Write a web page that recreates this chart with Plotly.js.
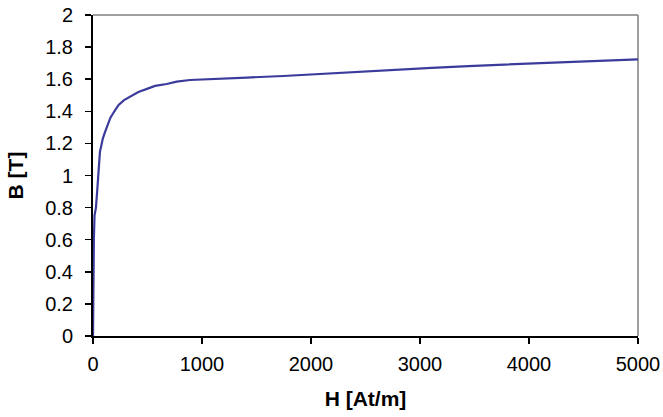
<!DOCTYPE html>
<html>
<head>
<meta charset="utf-8">
<script src="https://cdn.plot.ly/plotly-3.0.1.min.js"></script>
<style>html,body{margin:0;padding:0;background:#fff;}#chart{width:663px;height:417px;}</style>
</head>
<body>
<div id="chart"></div>
<script>
// Magnetization (B-H) curve values
var H = [0, 1, 3, 8, 14, 27, 38, 46, 55, 64, 71, 90, 110, 125, 160, 196, 235, 285, 340, 416, 508, 569, 676, 768, 890, 1104, 1410, 1746, 2052, 2419, 2755, 3107, 3443, 3841, 4193, 4590, 5000];
var B = [0, 0.2, 0.4, 0.6, 0.75, 0.8, 0.9, 1.0, 1.1, 1.15, 1.17, 1.23, 1.27, 1.30, 1.36, 1.40, 1.44, 1.47, 1.49, 1.52, 1.543, 1.558, 1.57, 1.585, 1.595, 1.60, 1.61, 1.62, 1.632, 1.647, 1.657, 1.67, 1.682, 1.693, 1.705, 1.715, 1.724];
var xTitle = "H [At/m]";
var yTitle = "B [T]";

var trace = {
  x: H, y: B, type: 'scatter', mode: 'lines',
  line: {color: '#3b3b9c', width: 2.2},
  hoverinfo: 'none'
};

var tickFont = {family: 'Liberation Sans, Arial, sans-serif', size: 20, color: '#000'};
var titleFont = {family: 'Liberation Sans, Arial, sans-serif', size: 21, color: '#000', weight: 'bold'};

var layout = {
  width: 663, height: 417,
  margin: {l: 93, r: 25, t: 15, b: 81, pad: 0},
  paper_bgcolor: '#fff', plot_bgcolor: '#fff',
  showlegend: false,
  xaxis: {
    range: [0, 5000], dtick: 1000, tick0: 0,
    showgrid: false, zeroline: false,
    showline: true, linecolor: '#000', linewidth: 2,
    ticks: 'outside', ticklen: 6, tickwidth: 1.5, tickcolor: '#000',
    tickfont: tickFont, ticklabelstandoff: 3,
    title: {text: '<b>' + xTitle + '</b>', font: titleFont, standoff: 17},
    automargin: false, fixedrange: true
  },
  yaxis: {
    range: [0, 2], dtick: 0.2, tick0: 0,
    showgrid: false, zeroline: false,
    showline: true, linecolor: '#000', linewidth: 2,
    ticks: 'outside', ticklen: 6, tickwidth: 1.5, tickcolor: '#000',
    tickfont: tickFont, ticklabelstandoff: 8,
    title: {text: '<b>' + yTitle + '</b>', font: titleFont, standoff: 16},
    automargin: false, fixedrange: true
  },
  shapes: [
    {type: 'line', xref: 'paper', yref: 'paper', x0: 0, x1: 1, y0: 1, y1: 1, line: {color: '#808080', width: 1.5}, layer: 'below'},
    {type: 'line', xref: 'paper', yref: 'paper', x0: 1, x1: 1, y0: 0, y1: 1, line: {color: '#808080', width: 1.5}, layer: 'below'}
  ]
};

Plotly.newPlot('chart', [trace], layout, {displayModeBar: false, staticPlot: true});
</script>
</body>
</html>
